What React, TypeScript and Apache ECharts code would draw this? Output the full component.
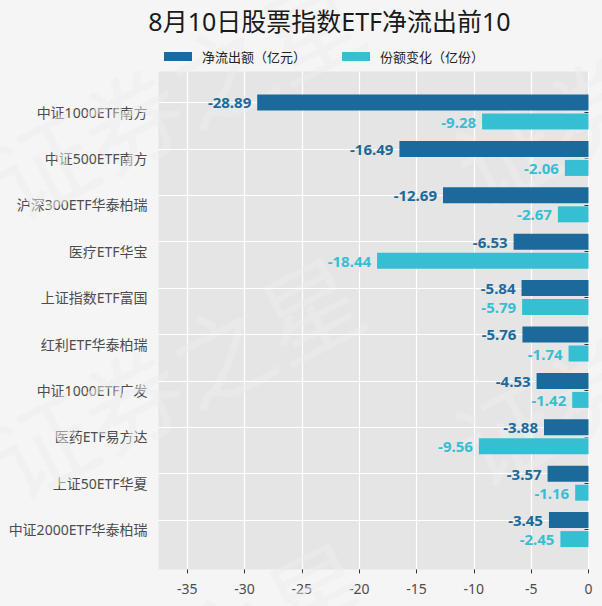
import React, { useEffect, useRef } from "react";
import * as echarts from "echarts";

const titleText = "8月10日股票指数ETF净流出前10";
const seriesNames = ["净流出额（亿元）", "份额变化（亿份）"];
const categories = [
  "中证1000ETF南方",
  "中证500ETF南方",
  "沪深300ETF华泰柏瑞",
  "医疗ETF华宝",
  "上证指数ETF富国",
  "红利ETF华泰柏瑞",
  "中证1000ETF广发",
  "医药ETF易方达",
  "上证50ETF华夏",
  "中证2000ETF华泰柏瑞",
];
const netOutflow = [-28.89, -16.49, -12.69, -6.53, -5.84, -5.76, -4.53, -3.88, -3.57, -3.45];
const shareChange = [-9.28, -2.06, -2.67, -18.44, -5.79, -1.74, -1.42, -9.56, -1.16, -2.45];
const xTicks = [-35, -30, -25, -20, -15, -10, -5, 0];
const xMin = -37.5;
const xMax = 0;
const watermarkText = "证券之星";

const DARK = "#1b6a9b";
const CYAN = "#36bfd3";
const FONT = "'Noto Sans', 'Noto Sans CJK SC', sans-serif";

export default function App() {
  const ref = useRef<HTMLDivElement>(null);

  useEffect(() => {
    if (!ref.current) return;
    const chart = echarts.init(ref.current, undefined, { renderer: "svg" });

    const watermarkOrigins = [
      [-3, 184],
      [-3, 464],
      [4, 749],
      [460, 172],
      [460, 452],
      [460, -108],
      [-3, -96],
    ];
    const rot = (27 * Math.PI) / 180;

    const option: any = {
      animation: false,
      backgroundColor: "#f5f5f5",
      textStyle: { fontFamily: FONT },
      legend: {
        data: seriesNames,
        left: 164,
        top: 50,
        padding: 0,
        itemWidth: 28,
        itemHeight: 9,
        itemGap: 36,
        icon: "rect",
        textStyle: { fontSize: 13, color: "#222", fontFamily: FONT, padding: [0, 0, 0, 5] },
      },
      grid: [
        {
          left: 158.5,
          right: 13.5,
          top: 71.5,
          bottom: 36.6,
          show: true,
          backgroundColor: "#e5e5e5",
          borderWidth: 0,
          z: 0,
        },
        {
          left: 158.5,
          right: 13.5,
          top: 88.8,
          bottom: 53.2,
        },
      ],
      xAxis: [
        {
          gridIndex: 0,
          type: "value",
          min: xMin,
          max: xMax,
          axisLine: { show: false },
          axisTick: {
            show: true,
            length: 4,
            customValues: xTicks,
            lineStyle: { color: "#333", width: 1 },
          },
          axisLabel: {
            customValues: xTicks,
            color: "#4d4d4d",
            fontSize: 14,
            margin: 12,
            fontFamily: FONT,
          },
          splitLine: { show: true, lineStyle: { color: "#ffffff", width: 1.2 } },
        },
        {
          gridIndex: 1,
          type: "value",
          min: xMin,
          max: xMax,
          show: false,
        },
      ],
      yAxis: [
        {
          gridIndex: 0,
          type: "value",
          show: false,
        },
        {
          gridIndex: 1,
          type: "category",
          inverse: true,
          data: categories,
          axisLine: { show: false },
          axisTick: {
            show: true,
            alignWithLabel: true,
            length: 4,
            lineStyle: { color: "#333", width: 1 },
          },
          axisLabel: { color: "#4d4d4d", fontSize: 14, margin: 11, fontFamily: FONT },
          splitLine: { show: false },
        },
      ],
      series: [
        {
          name: seriesNames[0],
          type: "bar",
          xAxisIndex: 1,
          yAxisIndex: 1,
          data: netOutflow,
          barWidth: 16,
          barGap: "19%",
          itemStyle: { color: DARK },
          label: {
            show: true,
            position: "left",
            distance: 6,
            color: DARK,
            fontWeight: "bold",
            fontSize: 15,
            fontFamily: FONT,
            formatter: (p: any) => Number(p.value).toFixed(2),
          },
          markLine: {
            silent: true,
            symbol: "none",
            label: { show: false },
            lineStyle: { color: "#ffffff", width: 1.2, type: "solid" },
            data: categories.map((c) => ({ yAxis: c })),
            z: 1,
          },
        },
        {
          name: seriesNames[1],
          type: "bar",
          xAxisIndex: 1,
          yAxisIndex: 1,
          data: shareChange,
          barWidth: 16,
          barGap: "19%",
          itemStyle: { color: CYAN },
          label: {
            show: true,
            position: "left",
            distance: 6,
            color: CYAN,
            fontWeight: "bold",
            fontSize: 15,
            fontFamily: FONT,
            formatter: (p: any) => Number(p.value).toFixed(2),
          },
        },
      ],
      graphic: [
        {
          type: "text",
          x: 329.5,
          y: 21,
          silent: true,
          z: 5,
          style: {
            text: titleText,
            textAlign: "center",
            textVerticalAlign: "middle",
            fontSize: 25,
            fill: "#1a1a1a",
            fontFamily: FONT,
          },
        },
        ...watermarkOrigins.map(([x, y]) => ({
          type: "text",
          x,
          y,
          rotation: rot,
          silent: true,
          z: 1,
          style: {
            text: watermarkText,
            textAlign: "left",
            textVerticalAlign: "middle",
            fontSize: 100,
            fill: "rgba(237,237,237,0.5)",
            fontFamily: "'Noto Sans CJK SC', sans-serif",
          },
        })),
      ],
    };

    chart.setOption(option);
    return () => chart.dispose();
  }, []);

  return (
    <div
      ref={ref}
      style={{ position: "absolute", left: 0, top: 0, width: 602, height: 606 }}
    />
  );
}
